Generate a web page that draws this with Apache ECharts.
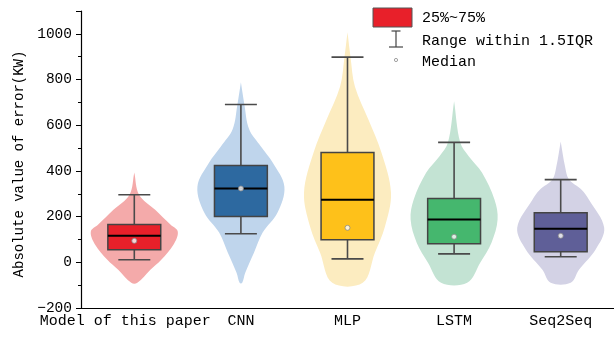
<!DOCTYPE html>
<html>
<head>
<meta charset="utf-8">
<script src="https://cdn.jsdelivr.net/npm/echarts@6/dist/echarts.min.js"></script>
<style>
  html, body { margin: 0; padding: 0; background: #fff; }
  #chart { width: 614px; height: 339px; }
</style>
</head>
<body>
<div id="chart"></div>
<script>
// Models compared
const categories = ['Model of this paper', 'CNN', 'MLP', 'LSTM', 'Seq2Seq'];

// Y tick values (KW)
const yTicks = [-200, 0, 200, 400, 600, 800, 1000];

// Box statistics (KW)
const whiskerLow  = [11, 125, 15, 37, 24];
const quartile1   = [55, 200, 99, 81, 46];
const medianLine  = [116, 323, 274, 187, 147];
const quartile3   = [165, 424, 481, 279, 217];
const whiskerHigh = [296, 691, 898, 525, 362];
const medianDot   = [94, 323, 151, 112, 116];

// Violin outlines: [error value, relative density width]
const violinModel = [[-90, 0.07], [-33, 0.37], [11, 0.62], [77, 0.9], [134, 1.0], [165, 0.83], [230, 0.48], [296, 0.11], [393, 0.0]];
const violinCNN = [[-90, 0.03], [-46, 0.1], [42, 0.3], [130, 0.5], [217, 0.84], [331, 1.0], [437, 0.73], [507, 0.46], [582, 0.19], [691, 0.08], [788, 0.0]];
const violinMLP = [[-90, 0.35], [42, 0.63], [156, 0.86], [305, 1.0], [481, 0.78], [625, 0.48], [770, 0.17], [898, 0.07], [1007, 0.0]];
const violinLSTM = [[-90, 0.3], [-2, 0.6], [86, 0.86], [187, 1.0], [274, 0.93], [393, 0.64], [463, 0.34], [525, 0.14], [705, 0.0]];
const violinSeq = [[-90, 0.23], [-33, 0.42], [55, 0.8], [151, 1.0], [274, 0.65], [318, 0.48], [362, 0.19], [419, 0.1], [529, 0.0]];
const violins = [violinModel, violinCNN, violinMLP, violinLSTM, violinSeq];

const violinColors = ['#f4aaaa', '#bfd5ec', '#fcecc0', '#c3e3d3', '#d3d2e5'];
const boxColors = ['#e8202a', '#2d69a0', '#fec11a', '#45b76e', '#5f5f98'];

const FONT = '"Liberation Mono", monospace';

const chart = echarts.init(document.getElementById('chart'), null, { renderer: 'canvas' });

function renderViolin(params, api) {
  const i = api.value(0);
  const band = api.size([1, 0])[0];
  const cx = api.coord([i, 0])[0];
  const maxHalf = band * 0.408;
  const prof = violins[i];
  const right = prof.map(([v, w]) => [cx + w * maxHalf, api.coord([i, v])[1]]);
  const left = prof.slice().reverse().map(([v, w]) => [cx - w * maxHalf, api.coord([i, v])[1]]);
  return {
    type: 'polygon',
    shape: { points: right.concat(left), smooth: 0.35 },
    style: { fill: violinColors[i], stroke: null }
  };
}

function renderBox(params, api) {
  const i = api.value(0);
  const band = api.size([1, 0])[0];
  const cx = api.coord([i, 0])[0];
  const hw = band * 0.248;
  const cw = band * 0.15;
  const y = v => api.coord([i, v])[1];
  const lo = api.value(1), b1 = api.value(2), md = api.value(3), b3 = api.value(4), hi = api.value(5);
  const ws = { stroke: '#4a4a4a', lineWidth: 1.6 };
  return {
    type: 'group',
    children: [
      { type: 'line', shape: { x1: cx, y1: y(hi), x2: cx, y2: y(b3) }, style: ws },
      { type: 'line', shape: { x1: cx, y1: y(b1), x2: cx, y2: y(lo) }, style: ws },
      { type: 'line', shape: { x1: cx - cw, y1: y(hi), x2: cx + cw, y2: y(hi) }, style: ws },
      { type: 'line', shape: { x1: cx - cw, y1: y(lo), x2: cx + cw, y2: y(lo) }, style: ws },
      { type: 'rect', shape: { x: cx - hw, y: y(b3), width: 2 * hw, height: y(b1) - y(b3) },
        style: { fill: boxColors[i], stroke: '#444', lineWidth: 1.5 } },
      { type: 'line', shape: { x1: cx - hw, y1: y(md), x2: cx + hw, y2: y(md) },
        style: { stroke: '#000', lineWidth: 2 } }
    ]
  };
}

const option = {
  animation: false,
  grid: { left: 81, right: 0, top: 11, bottom: 31, containLabel: false },
  xAxis: {
    type: 'category',
    data: categories,
    boundaryGap: true,
    axisLine: { onZero: false, lineStyle: { color: '#000', width: 1.2 } },
    axisTick: { alignWithLabel: true, length: 4, lineStyle: { color: '#000', width: 1 } },
    axisLabel: {
      color: '#000', fontFamily: FONT, fontSize: 15, margin: 6, interval: 0,
      formatter: (v, idx) => idx === 0 ? '{first|' + v + '}' : v,
      rich: { first: { color: '#000', fontFamily: FONT, fontSize: 15, padding: [0, 18, 0, 0] } }
    },
    splitLine: { show: false }
  },
  yAxis: {
    type: 'value',
    min: yTicks[0],
    max: 1100,
    interval: 200,
    name: 'Absolute value of error(KW)',
    nameLocation: 'middle',
    nameRotate: 90,
    nameGap: 52,
    nameTextStyle: { color: '#000', fontFamily: FONT, fontSize: 14, padding: [0, 0, 0, -9] },
    axisLine: { show: true, onZero: false, lineStyle: { color: '#000', width: 1.2 } },
    axisTick: { show: true, length: 5, lineStyle: { color: '#000', width: 1 } },
    minorTick: { show: true, splitNumber: 2, length: 3, lineStyle: { color: '#000', width: 1 } },
    axisLabel: {
      color: '#000', fontFamily: FONT, fontSize: 14.5, margin: 9,
      showMaxLabel: false,
      formatter: v => yTicks.includes(v) ? String(v).replace('-', '\u2212') : ''
    },
    splitLine: { show: false }
  },
  series: [
    {
      type: 'custom',
      name: 'violin',
      renderItem: renderViolin,
      encode: { x: 0, y: 1 },
      data: categories.map((c, i) => [i, 0]),
      z: 1
    },
    {
      type: 'custom',
      name: '25%~75%',
      renderItem: renderBox,
      encode: { x: 0, y: [1, 2, 3, 4, 5] },
      data: categories.map((c, i) => [i, whiskerLow[i], quartile1[i], medianLine[i], quartile3[i], whiskerHigh[i]]),
      z: 2
    },
    {
      type: 'scatter',
      name: 'Median',
      symbol: 'circle',
      symbolSize: 5,
      itemStyle: { color: '#fff', borderColor: '#8a8a8a', borderWidth: 1 },
      data: categories.map((c, i) => [i, medianDot[i]]),
      z: 3
    }
  ],
  graphic: [
    { type: 'rect', shape: { x: 373, y: 8, width: 39, height: 19 },
      style: { fill: '#e8202a', stroke: '#555', lineWidth: 1 } },
    { type: 'text', x: 422, y: 18, style: { text: '25%~75%', font: '15px ' + FONT, fill: '#000', textVerticalAlign: 'middle' } },
    { type: 'line', shape: { x1: 396, y1: 31, x2: 396, y2: 47 }, style: { stroke: '#444', lineWidth: 1.2 } },
    { type: 'line', shape: { x1: 391.5, y1: 31, x2: 400.5, y2: 31 }, style: { stroke: '#444', lineWidth: 1.2 } },
    { type: 'line', shape: { x1: 389, y1: 47, x2: 403, y2: 47 }, style: { stroke: '#444', lineWidth: 1.2 } },
    { type: 'text', x: 422, y: 41, style: { text: 'Range within 1.5IQR', font: '15px ' + FONT, fill: '#000', textVerticalAlign: 'middle' } },
    { type: 'circle', shape: { cx: 396, cy: 60, r: 1.6 }, style: { fill: '#fff', stroke: '#8a8a8a', lineWidth: 0.8 } },
    { type: 'text', x: 422, y: 62, style: { text: 'Median', font: '15px ' + FONT, fill: '#000', textVerticalAlign: 'middle' } }
  ]
};

chart.setOption(option);
</script>
</body>
</html>
